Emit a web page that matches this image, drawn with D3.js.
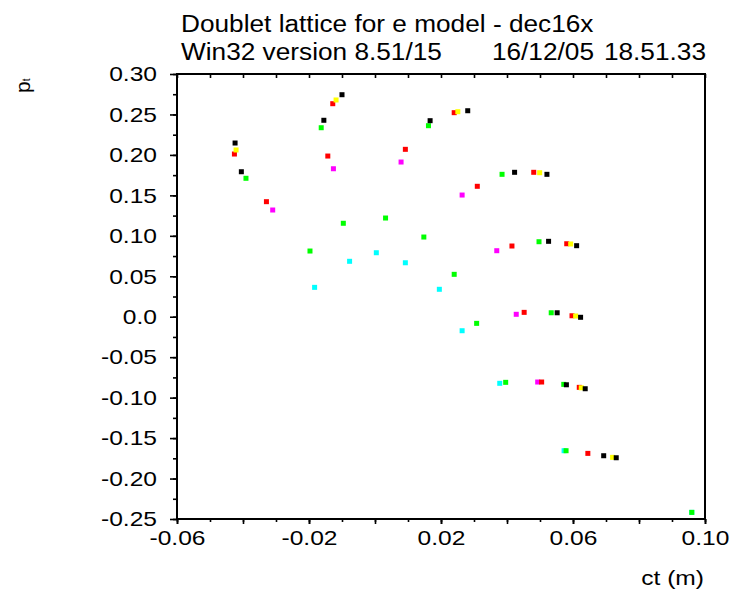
<!DOCTYPE html>
<html><head><meta charset="utf-8">
<script src="https://cdn.jsdelivr.net/npm/d3@7/dist/d3.min.js"></script>
<style>
body{margin:0;background:#fff}
text{font-family:"Liberation Sans",Arial,Helvetica,sans-serif;fill:#000}
</style>
</head><body>
<svg id="chart" width="734" height="592"></svg>
<script>
// ---------- data ----------
const titleLine1 = "Doublet lattice for e model - dec16x";
const titleLine2 = ["Win32 version 8.51/15", "16/12/05", "18.51.33"];
const xLabel = "ct (m)";
const yLabelMain = "p", yLabelSub = "t";

const xTickValues = [-0.06, -0.02, 0.02, 0.06, 0.10];
const xTickLabels = ["-0.06", "-0.02", "0.02", "0.06", "0.10"];
const yTickValues = [0.30, 0.25, 0.20, 0.15, 0.10, 0.05, 0.0, -0.05, -0.10, -0.15, -0.20, -0.25];
const yTickLabels = ["0.30", "0.25", "0.20", "0.15", "0.10", "0.05", "0.0", "-0.05", "-0.10", "-0.15", "-0.20", "-0.25"];

const seriesNames  = ["cyan", "magenta", "green", "red", "yellow", "black"];
const seriesColors = ["#00ffff", "#ff00ff", "#00ff00", "#ff0000", "#ffff00", "#000000"];

const cyanCt = [-0.0077, 0.0004, 0.0092, -0.0183, 0.0195, 0.0264, 0.0378, 0.0573, 0.0960];
const cyanPt = [0.0685, 0.0791, 0.0667, 0.0363, 0.0339, -0.0173, -0.0823, -0.1656, -0.2418];

const magentaCt = [-0.0126, -0.0310, 0.0079, 0.0264, 0.0369, 0.0428, 0.0493];
const magentaPt = [0.1829, 0.1319, 0.1912, 0.1504, 0.0816, 0.0030, -0.0807];

const greenCt = [-0.0163, -0.0391, 0.0162, 0.0385, -0.0096, 0.0032, 0.0148, -0.0197, 0.0240, 0.0497, 0.0534, 0.0308, 0.0396, 0.0572, 0.0579, 0.0960];
const greenPt = [0.2336, 0.1711, 0.2361, 0.1760, 0.1155, 0.1220, 0.0985, 0.0812, 0.0524, 0.0927, 0.0049, -0.0082, -0.0811, -0.0836, -0.1656, -0.2418];

const redCt = [-0.0128, -0.0426, -0.0143, -0.0329, 0.0240, 0.0092, 0.0481, 0.0310, 0.0581, 0.0415, 0.0452, 0.0597, 0.0505, 0.0619, 0.0645];
const redPt = [0.2633, 0.2011, 0.1986, 0.1422, 0.2522, 0.2069, 0.1785, 0.1612, 0.0902, 0.0874, 0.0054, 0.0012, -0.0807, -0.0873, -0.1689];

const yellowCt = [-0.0118, -0.0421, 0.0251, 0.0499, 0.0593, 0.0608, 0.0625, 0.0720];
const yellowPt = [0.2679, 0.2061, 0.2534, 0.1780, 0.0899, 0.0009, -0.0878, -0.1738];

const blackCt = [-0.0100, -0.0155, -0.0424, -0.0405, 0.0167, 0.0281, 0.0423, 0.0521, 0.0526, 0.0611, 0.0552, 0.0623, 0.0580, 0.0637, 0.0693, 0.0731];
const blackPt = [0.2744, 0.2428, 0.2147, 0.1792, 0.2423, 0.2546, 0.1785, 0.1760, 0.0932, 0.0878, 0.0049, -0.0007, -0.0841, -0.0890, -0.1718, -0.1743];

const seriesCt = [cyanCt, magentaCt, greenCt, redCt, yellowCt, blackCt];
const seriesPt = [cyanPt, magentaPt, greenPt, redPt, yellowPt, blackPt];

// ---------- layout ----------
const L = 177, R = 705, T = 74, B = 519;
const svg = d3.select("#chart");

const x = d3.scaleLinear().domain([-0.06, 0.10]).range([L, R]);
const y = d3.scaleLinear().domain([-0.25, 0.30]).range([B, T]);

const xMinor = d3.range(-6, 10.5, 1).map(d => d / 100);
const xMid = d3.range(-6, 10.5, 2).map(d => d / 100);
const yMinor = d3.range(-10, 12.5, 1).map(d => d * 0.025);

function styleAxis(g) {
  g.select(".domain").remove();
  g.selectAll(".tick line").attr("stroke", "#000").attr("stroke-width", 1.6);
  g.selectAll("text").attr("fill", "#000").style("font-size", "21px")
    .style("font-family", '"Liberation Sans",Arial,sans-serif');
}

// bottom axis: minor, mid, labelled
svg.append("g").attr("transform", `translate(0,${B})`)
  .call(d3.axisBottom(x).tickValues(xMinor).tickSize(3).tickFormat("").tickSizeOuter(0)).call(styleAxis);
svg.append("g").attr("transform", `translate(0,${B})`)
  .call(d3.axisBottom(x).tickValues(xMid).tickSize(5).tickFormat("").tickSizeOuter(0)).call(styleAxis);
svg.append("g").attr("class", "xlab").attr("transform", `translate(0,${B})`)
  .call(d3.axisBottom(x).tickValues(xTickValues).tickSize(5).tickPadding(6)
    .tickFormat((d, i) => xTickLabels[i]).tickSizeOuter(0)).call(styleAxis);

// top axis: inward ticks
svg.append("g").attr("transform", `translate(0,${T})`)
  .call(d3.axisTop(x).tickValues(xMinor).tickSize(-4).tickFormat("").tickSizeOuter(0)).call(styleAxis);

// left axis: minor + major labelled
svg.append("g").attr("transform", `translate(${L},0)`)
  .call(d3.axisLeft(y).tickValues(yMinor).tickSize(4).tickFormat("").tickSizeOuter(0)).call(styleAxis);
svg.append("g").attr("class", "ylab").attr("transform", `translate(${L},0)`)
  .call(d3.axisLeft(y).tickValues(yTickValues).tickSize(7).tickPadding(13)
    .tickFormat((d, i) => yTickLabels[i]).tickSizeOuter(0)).call(styleAxis);

// frame
svg.append("rect").attr("x", L).attr("y", T).attr("width", R - L).attr("height", B - T)
  .attr("fill", "none").attr("stroke", "#000").attr("stroke-width", 2);

// points
const MS = 5;
seriesNames.forEach((name, si) => {
  const pts = seriesCt[si].map((c, i) => ({ct: c, pt: seriesPt[si][i]}));
  svg.append("g").attr("class", "series-" + name)
    .selectAll("rect").data(pts).join("rect")
    .attr("x", d => x(d.ct) - MS / 2).attr("y", d => y(d.pt) - MS / 2)
    .attr("width", MS).attr("height", MS)
    .attr("fill", seriesColors[si]);
});

// titles
svg.append("text").attr("class", "tt").attr("x", 181).attr("y", 32)
  .style("font-size", "23px").text(titleLine1);
svg.append("text").attr("class", "tt").attr("x", 181).attr("y", 60)
  .style("font-size", "23px").text(titleLine2[0]);
svg.append("text").attr("class", "tt").attr("x", 594).attr("y", 60).attr("text-anchor", "end")
  .style("font-size", "23px").text(titleLine2[1]);
svg.append("text").attr("class", "tt").attr("x", 706).attr("y", 60).attr("text-anchor", "end")
  .style("font-size", "23px").text(titleLine2[2]);

// x label
svg.append("text").attr("class", "st").attr("x", 704).attr("y", 585).attr("text-anchor", "end")
  .style("font-size", "21px").text(xLabel);

// y label (rotated)
const yl = svg.append("text").attr("transform", "translate(30,93) rotate(-90)")
  .style("font-size", "21px");
yl.append("tspan").text(yLabelMain);
yl.append("tspan").style("font-size", "10px").text(yLabelSub);

// horizontal stretch to match the wide lettering of the original
function stretch(sel, k) {
  sel.each(function() {
    const w = this.getComputedTextLength();
    d3.select(this).attr("textLength", w * k).attr("lengthAdjust", "spacingAndGlyphs");
  });
}
stretch(svg.selectAll("text.tt"), 1.14);
stretch(svg.selectAll("text.st, .xlab text, .ylab text"), 1.17);
</script>
</body></html>
